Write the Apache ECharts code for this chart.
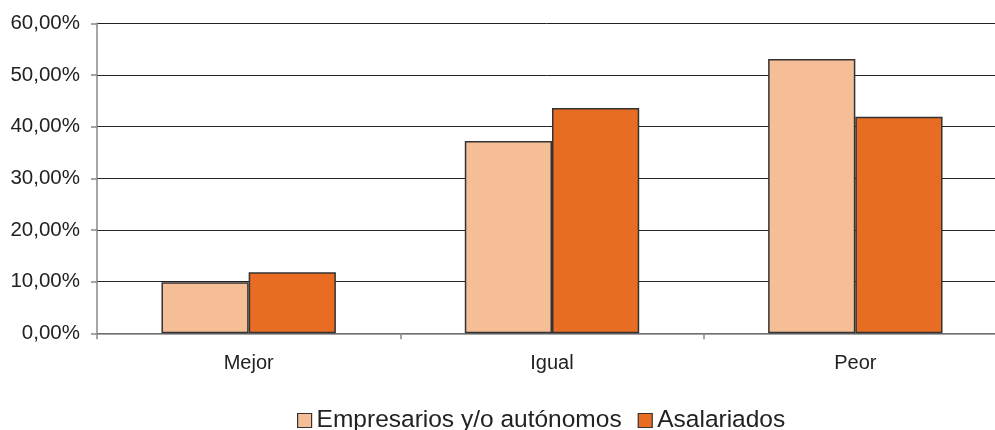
<!DOCTYPE html>
<html>
<head>
<meta charset="utf-8">
<script src="https://cdn.jsdelivr.net/npm/echarts@6/dist/echarts.min.js"></script>
<style>
html,body{margin:0;padding:0;background:#fff;}
#chart{width:995px;height:430px;}
</style>
</head>
<body>
<div id="chart"></div>
<script>
const categories = ['Mejor', 'Igual', 'Peor'];
const seriesNames = ['Empresarios y/o autónomos', 'Asalariados'];
const empresarios = [9.9, 37.2, 53.1];
const asalariados = [11.8, 43.6, 41.9];
const yTicks = [0, 10, 20, 30, 40, 50, 60];

const chart = echarts.init(document.getElementById('chart'), null, {renderer: 'canvas'});
const font = 'Liberation Sans, Arial, sans-serif';
chart.setOption({
  animation: false,
  backgroundColor: '#ffffff',
  grid: {left: 97, top: 23.3, height: 310, width: 910, containLabel: false, outerBoundsMode: 'none'},
  legend: {
    left: 297, top: 408, padding: 0,
    itemWidth: 14, itemHeight: 14, itemGap: 16,
    icon: 'rect',
    textStyle: {fontFamily: font, fontSize: 24.5, color: '#222'},
    itemStyle: {borderColor: '#333', borderWidth: 1.2},
    data: seriesNames
  },
  xAxis: {
    type: 'category',
    data: categories,
    boundaryGap: true,
    axisLine: {lineStyle: {color: '#888', width: 1.5}},
    axisTick: {show: true, length: 6, lineStyle: {color: '#888', width: 1.5}},
    axisLabel: {fontFamily: font, fontSize: 20, color: '#222', margin: 20}
  },
  yAxis: {
    type: 'value',
    min: yTicks[0], max: yTicks[yTicks.length - 1], interval: 10,
    axisLine: {show: true, lineStyle: {color: '#888', width: 1.5}},
    axisTick: {show: true, length: 6, lineStyle: {color: '#888', width: 1.5}},
    axisLabel: {
      fontFamily: font, fontSize: 20.5, color: '#222', margin: 17,
      formatter: v => v.toFixed(2).replace('.', ',') + '%'
    },
    splitLine: {show: true, lineStyle: {color: '#222', width: 1}}
  },
  series: [
    {
      name: seriesNames[0], type: 'bar', data: empresarios,
      barGap: '0%', barCategoryGap: '42.5%',
      itemStyle: {color: '#F6BE96', borderColor: '#333', borderWidth: 1.5}
    },
    {
      name: seriesNames[1], type: 'bar', data: asalariados,
      barGap: '0%', barCategoryGap: '42.5%',
      itemStyle: {color: '#E86C22', borderColor: '#333', borderWidth: 1.5}
    }
  ]
});
</script>
</body>
</html>
